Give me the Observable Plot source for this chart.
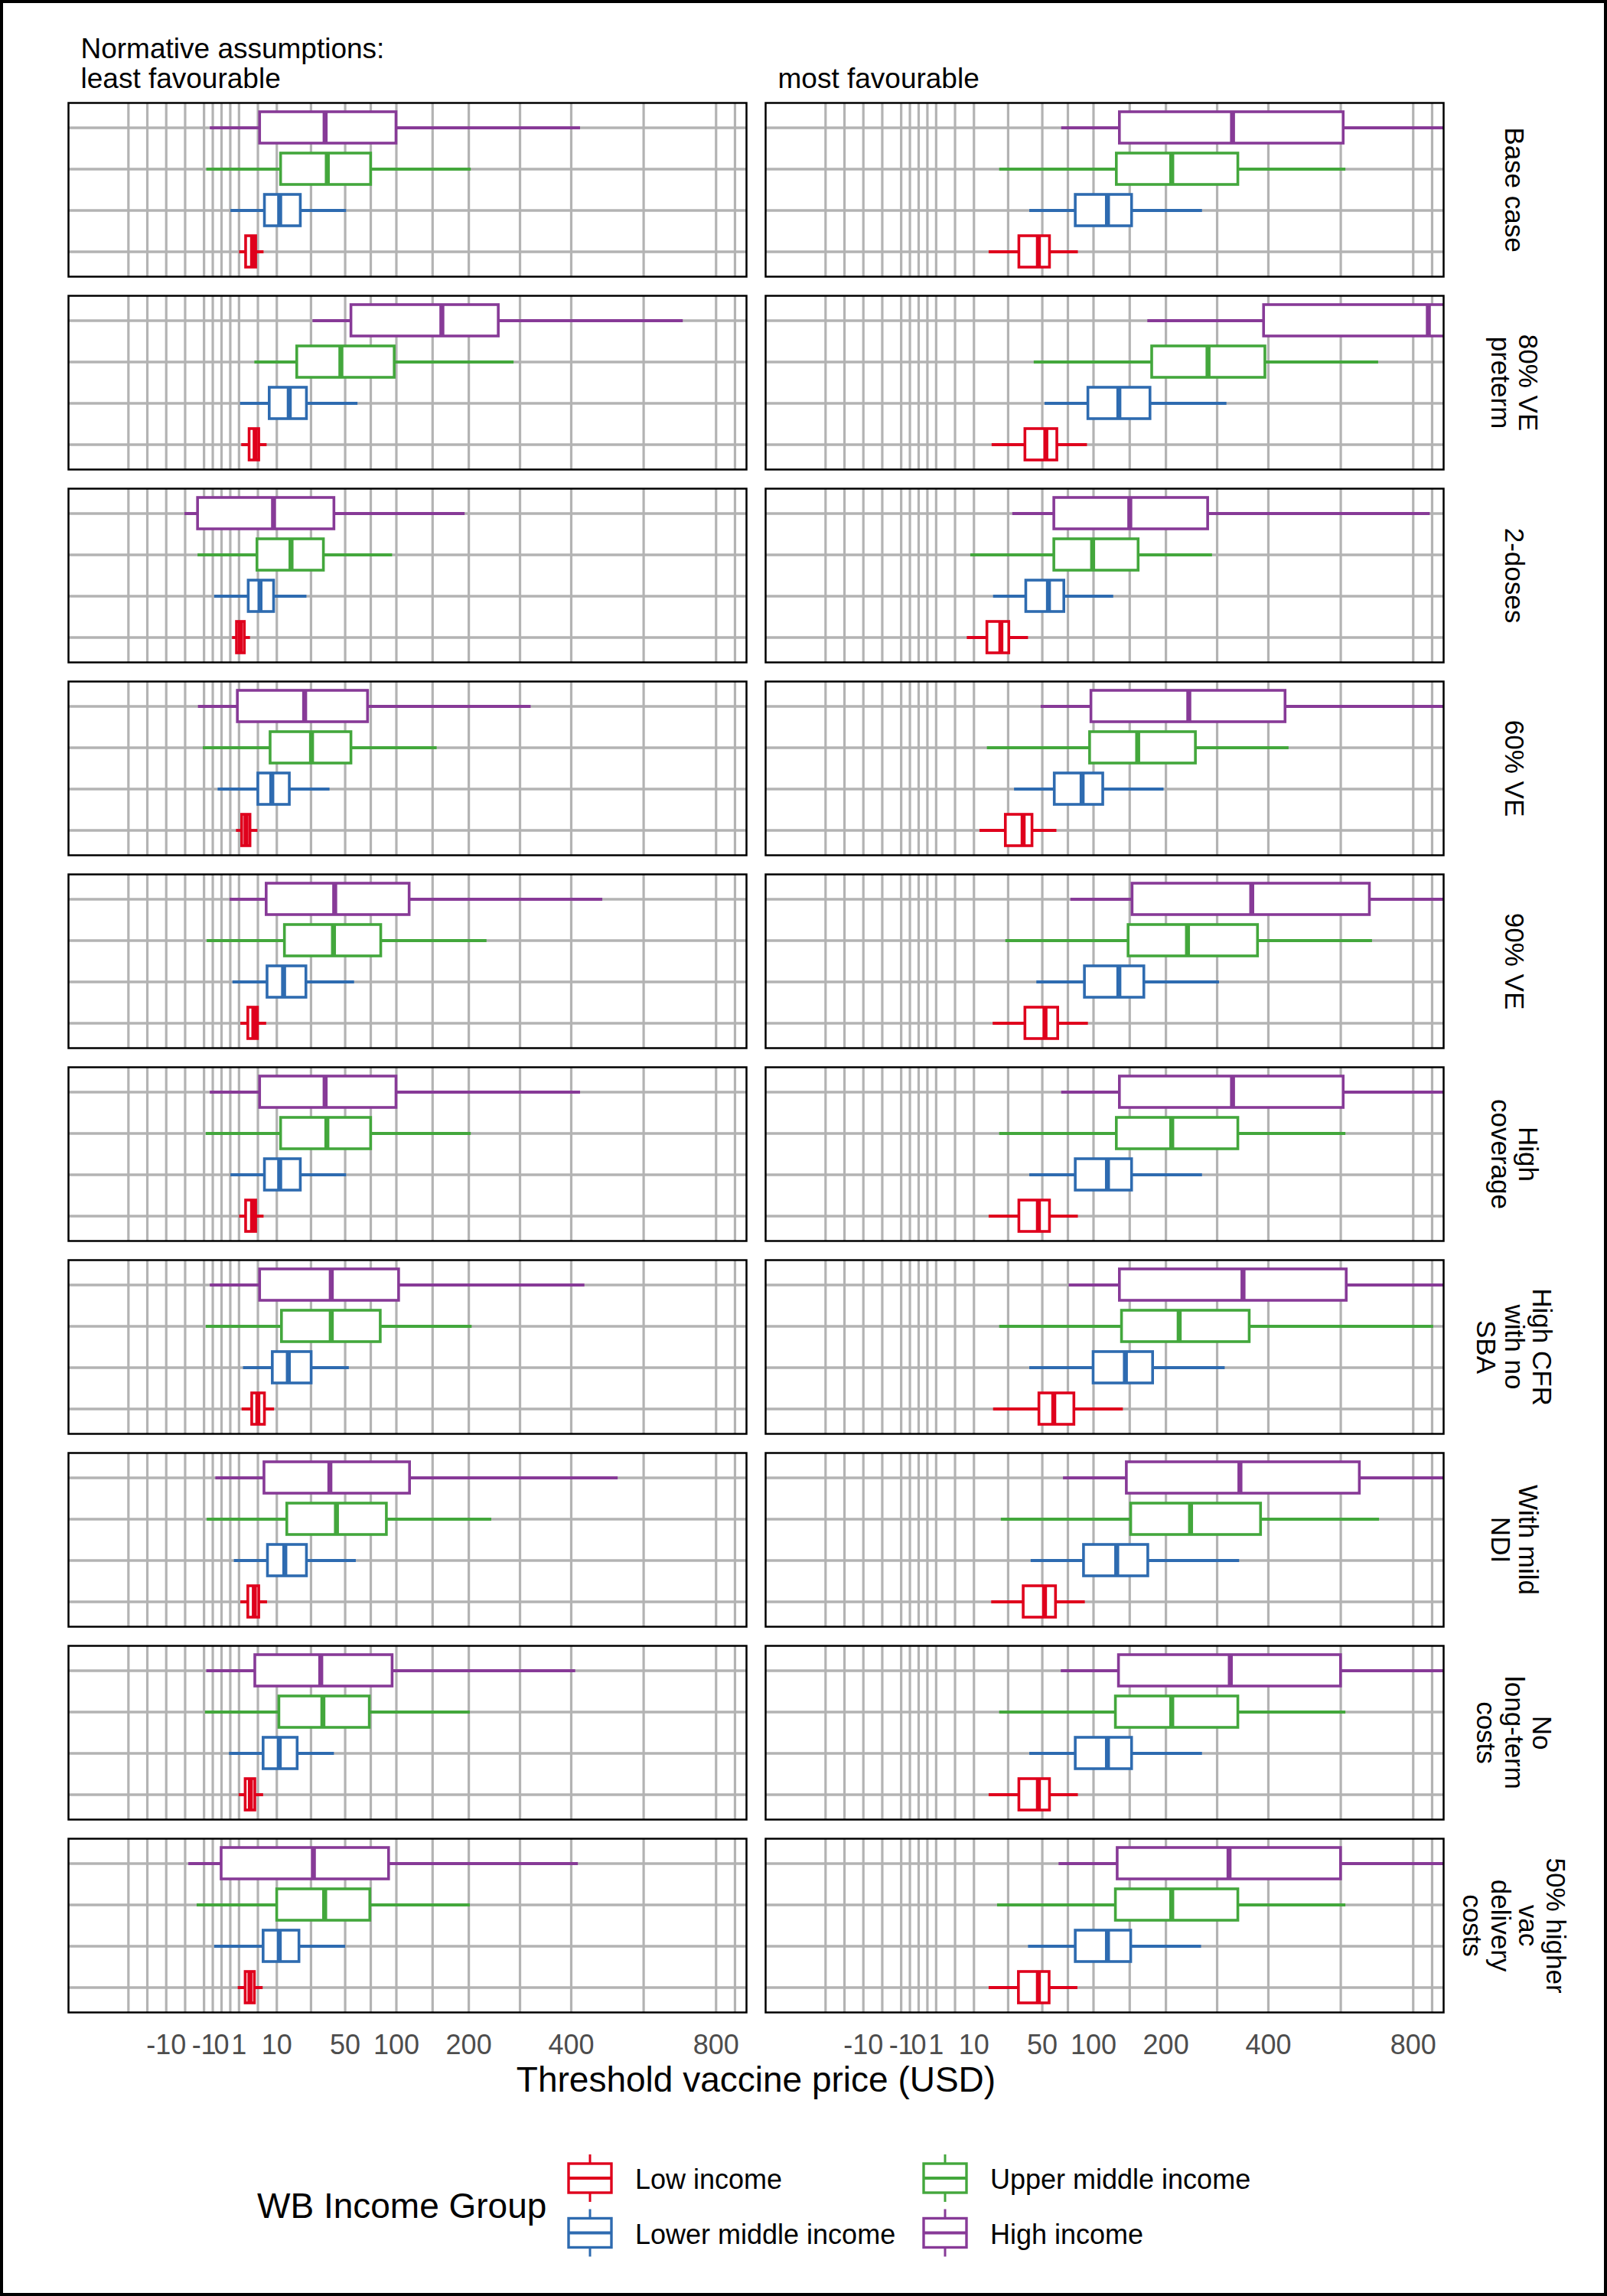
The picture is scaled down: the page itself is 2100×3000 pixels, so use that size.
<!DOCTYPE html>
<html>
<head>
<meta charset="utf-8">
<script src="https://cdn.jsdelivr.net/npm/d3@7"></script>
<script src="https://cdn.jsdelivr.net/npm/@observablehq/plot@0.6"></script>
<style>
  html, body { margin: 0; padding: 0; background: #fff; }
  #page { position: relative; width: 2100px; height: 3000px; background: #fff; overflow: hidden;
          font-family: 'Liberation Sans', Arial, Helvetica, sans-serif; }
  #border { position: absolute; left: 0; top: 0; width: 2100px; height: 3000px; box-sizing: border-box;
            border: 4px solid #000; pointer-events: none; z-index: 10; }
  #chart { position: absolute; left: 0; top: 0; }
  #xtitle { position: absolute; left: 89px; width: 1798px; top: 2694px; text-align: center;
            font-size: 46px; line-height: 46px; color: #000; }
  #legend { position: absolute; left: 0; top: 2780px; }
</style>
</head>
<body>
<div id="page">
  <div id="chart"></div>
  <div id="xtitle">Threshold vaccine price (USD)</div>
  <div id="legend"></div>
  <div id="border"></div>
</div>
<script>
// ---------- categories ----------
const scenarios = ["Base case", "80% VE\npreterm", "2-doses", "60% VE", "90% VE", "High\ncoverage",
  "High CFR\nwith no\nSBA", "With mild\nNDI", "No\nlong-term\ncosts", "50% higher\nvac\ndelivery\ncosts"];
const assumptions = ["least", "most"];
const assumptionLabels = ["Normative assumptions:\nleast favourable", "most favourable"];
const groups = ["Low income", "Lower middle income", "Upper middle income", "High income"];
const groupColors = ["#df001c", "#2e6bb0", "#43a73c", "#873a97"];

// ---------- tick labels / grid breaks ----------
const majorBreaks = [-10, -1, 0, 1, 10, 50, 100, 200, 400, 800];
const minorBreaks = [-28.35, -18.0, -4.331, -0.25, 0.25, 4.331, 26.18, 72.86, 145.7, 291.4, 582.8, 862.3];

// ---------- values: [lower whisker, Q1, median, Q3, upper whisker] per scenario ----------
// least favourable
const leastLow = [[1.05,1.96,3.15,3.9,5.88],[1.32,2.56,3.7,4.62,6.76],[0.39,0.77,1.16,1.76,2.72],[0.72,1.38,1.96,2.72,4.31],
  [1.21,2.33,3.42,4.31,6.63],[1.05,1.96,3.15,3.9,5.88],[1.38,3.06,4.31,6.13,9.15],[1.21,2.33,3.52,4.62,6.89],
  [1.0,1.89,2.72,3.71,5.76],[0.9,1.89,2.64,3.61,5.64]];
const leastLowerMid = [[0.28,6.13,11.06,20.5,51.1],[1.16,7.56,15.0,23.8,60.8],[-0.16,2.4,4.84,9.0,23.8],[-0.04,4.41,8.27,15.2,38.4],
  [0.42,6.89,12.6,23.5,57.8],[0.28,6.13,11.06,20.5,51.1],[1.56,8.56,14.6,26.5,53.3],[0.53,7.02,13.1,23.8,59.3],
  [0.2,5.76,10.9,18.9,41.6],[-0.16,5.76,10.9,19.8,50.4]];
const leastUpperMid = [[-0.72,11.56,36.6,73.1,203.8],[3.61,18.7,46.6,98,279.7],[-1.82,4.2,15.8,34.2,95.6],[-1.1,7.84,26.5,55.1,151.9],
  [-0.68,13.1,41,83.3,230.3],[-0.77,11.56,36.3,73.1,203.8],[-0.77,11.9,39.4,82.8,205.2],[-0.68,14.1,43.2,89.3,238.7],
  [-0.86,10.9,33.6,71.8,202.3],[-1.96,10.1,34.8,72.3,202.3]];
const leastHigh = [[-0.42,4.84,35.1,100,421.3],[27.3,55.1,158.8,251.2,697],[-4.41,-1.82,8.85,41.6,193.9],[-1.76,0.86,22.6,70.1,313.3],
  [0.23,6.63,41.9,115.6,475.2],[-0.42,4.84,35.1,100,421.3],[-0.42,4.84,39.4,103,431.6],[-0.11,6.0,38.4,116.1,514.2],
  [-0.72,3.71,32.2,95.6,410],[-3.52,0.0,27.6,91.7,416.2]];
// most favourable
const mostLow = [[16.2,33.1,46.9,56.3,83.3],[17.6,37.2,52.9,62.8,93.1],[7.7,15.4,22.1,26.8,39.4],[12.25,24.8,35.7,42.3,62.4],
  [18.1,37.2,52.2,63.6,94.1],[16.2,33.1,46.9,56.3,83.3],[18.3,47.6,59.7,79.2,136.9],[17.4,36,51.8,61.6,90.7],
  [16.2,33.1,46.9,56.3,83.3],[16.2,32.8,46.9,56,82.8]];
const mostLowerMid = [[40.3,80.6,116.6,148.8,263.3],[52.2,94.1,131.1,175.6,310.6],[18.3,37.8,55.1,69.3,124.3],[30,60.5,87.4,111.3,196.7],
  [45.6,90.3,131.1,166.4,295.8],[40.3,80.6,116.6,148.8,263.3],[40.3,100,139.8,179.6,307.1],[41.3,89.3,128.3,172.3,336.7],
  [40.3,80.6,116.6,148.8,263.3],[39.4,80.6,116.6,147.6,261.6]];
const mostUpperMid = [[21.4,128.3,209.5,334,596.6],[43.6,178.2,273.9,393,691.7],[8.85,60.1,99,158.1,282.2],[15.4,96,156.9,251.2,448.4],
  [24.8,144,236.4,376.4,673.4],[21.4,128.3,209.5,334,596.6],[21.4,135.1,222,358.2,867.3],[22.3,147.6,241.8,383.2,694.3],
  [21.4,127.1,209.5,334,596.6],[20.3,127.1,209.5,334,596.6]];
const mostHigh = [[66.8,132.3,322.2,590.5,1000],[171.6,390,849.7,1200,1800],[28.9,60.1,145.8,273.9,855.6],[49,97.5,238.7,440,1000],
  [75.7,149.5,362.9,665.6,1000],[66.8,132.3,322.2,590.5,1000],[74,132.3,344.1,599,1000],[68.5,141.6,337.6,636.3,1000],
  [66.4,131.1,317.7,583.2,1000],[64.4,129.4,315.1,583.2,1000]];

// ---------- build table ----------
const seriesByAssumption = {
  least: [leastLow, leastLowerMid, leastUpperMid, leastHigh],
  most: [mostLow, mostLowerMid, mostUpperMid, mostHigh]
};
const rows = [];
for (const a of assumptions) {
  seriesByAssumption[a].forEach((series, gi) => {
    series.forEach((v, si) => {
      rows.push({assumption: a, scenario: scenarios[si], group: groups[gi],
                 lo: v[0], q1: v[1], med: v[2], q3: v[3], hi: v[4]});
    });
  });
}
const gridBreaks = majorBreaks.concat(minorBreaks);
const gridGray = "#b3b3b3";

const chart = Plot.plot({
  width: 2100,
  height: 2760,
  marginTop: 134,
  marginLeft: 89,
  marginRight: 213,
  marginBottom: 130,
  style: {fontFamily: "'Liberation Sans', Arial, Helvetica, sans-serif", background: "transparent", color: "#000"},
  fx: {domain: assumptions, axis: null, paddingInner: 0.0274, paddingOuter: 0},
  fy: {domain: scenarios, axis: null, paddingInner: 0.0992, paddingOuter: 0},
  x: {type: "sqrt", domain: [-76.6, 901.4]},
  y: {type: "band", domain: groups.slice().reverse(), paddingInner: 0.25, paddingOuter: 0.225, axis: null},
  color: {domain: groups, range: groupColors},
  marks: [
    Plot.gridX(gridBreaks, {stroke: gridGray, strokeOpacity: 1, strokeWidth: 3.2}),
    Plot.ruleY(groups, {y: d => d, stroke: gridGray, strokeWidth: 3.4}),
    Plot.ruleY(rows, {fx: "assumption", fy: "scenario", y: "group", x1: "lo", x2: "hi",
                      stroke: "group", strokeWidth: 3.8, clip: true}),
    Plot.barX(rows, {fx: "assumption", fy: "scenario", y: "group", x1: "q1", x2: "q3",
                     fill: "white", stroke: "group", strokeWidth: 3.6, clip: true}),
    Plot.tickX(rows, {fx: "assumption", fy: "scenario", y: "group", x: "med",
                      stroke: "group", strokeWidth: 6.5, clip: true}),
    Plot.frame({stroke: "#000", strokeWidth: 2.5}),
    Plot.axisX(majorBreaks, {tickSize: 0, tickPadding: 29, fontSize: 36, color: "#4d4d4d",
                             tickFormat: d => String(d), label: null}),
    Plot.text(scenarios, {fx: () => "most", fy: d => d, text: d => d, frameAnchor: "right", dx: 92,
                          rotate: 90, fontSize: 35, lineHeight: 1.04, textAnchor: "middle", lineAnchor: "middle", fill: "#000"}),
    Plot.text(assumptions, {fx: d => d, fy: () => scenarios[0], text: (d, i) => assumptionLabels[i],
                            frameAnchor: "top-left", textAnchor: "start", lineAnchor: "bottom",
                            dx: 16, dy: -20, fontSize: 37, lineHeight: 1.05, fill: "#000"})
  ]
});
document.getElementById("chart").appendChild(chart);

// ---------- legend ----------
const legendCols = [771, 1235];
const legendRows = [66, 137.5];
const svg = d3.create("svg").attr("width", 2100).attr("height", 200)
  .style("font-family", "'Liberation Sans', Arial, Helvetica, sans-serif");
svg.append("text").attr("x", 336).attr("y", 118).attr("font-size", 46).attr("fill", "#000").text("WB Income Group");
groups.forEach((g, i) => {
  const cx = legendCols[Math.floor(i / 2)], cy = legendRows[i % 2], c = groupColors[i];
  const k = svg.append("g");
  k.append("line").attr("x1", cx).attr("x2", cx).attr("y1", cy - 31).attr("y2", cy + 31).attr("stroke", c).attr("stroke-width", 3);
  k.append("rect").attr("x", cx - 28).attr("y", cy - 19).attr("width", 56).attr("height", 38)
    .attr("fill", "white").attr("stroke", c).attr("stroke-width", 3.4);
  k.append("line").attr("x1", cx - 28).attr("x2", cx + 28).attr("y1", cy).attr("y2", cy).attr("stroke", c).attr("stroke-width", 4);
  svg.append("text").attr("x", cx + 59).attr("y", cy + 14).attr("font-size", 36).attr("fill", "#000").text(g);
});
document.getElementById("legend").appendChild(svg.node());
</script>
</body>
</html>
